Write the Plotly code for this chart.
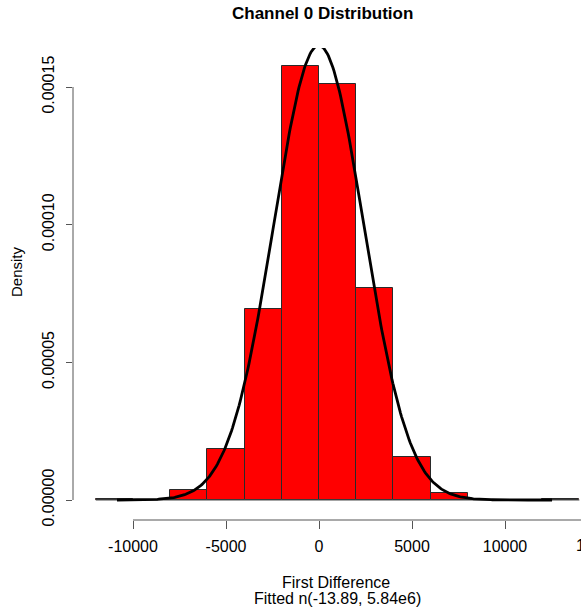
import numpy as np
import plotly.graph_objects as go

# ---- data ----
bin_edges = [-12000, -10000, -8000, -6000, -4000, -2000, 0, 2000, 4000, 6000, 8000, 10000, 12000, 14000]
densities = [4e-7, 0.0, 3.6e-6, 1.85e-5, 6.95e-5, 1.575e-4, 1.51e-4, 7.7e-5, 1.55e-5, 2.5e-6, 0.0, 0.0, 4e-7]

fit_mean = -13.89
fit_var = 5.84e6
curve_from = -10860
curve_to = 12530

x_tickvals = [-10000, -5000, 0, 5000, 10000, 15000]
x_ticktext = ["-10000", "-5000", "0", "5000", "10000", "15000"]
y_tickvals = [0.0, 0.00005, 0.00010, 0.00015]
y_ticktext = ["0.00000", "0.00005", "0.00010", "0.00015"]

title_text = "Channel 0 Distribution"
xlab1 = "First Difference"
xlab2 = "Fitted n(-13.89, 5.84e6)"
ylab = "Density"

# ---- derived ----
edges = np.array(bin_edges, dtype=float)
centers = (edges[:-1] + edges[1:]) / 2
widths = np.diff(edges)

sd = np.sqrt(fit_var)
cx = np.linspace(curve_from, curve_to, 400)
cy = np.exp(-(cx - fit_mean) ** 2 / (2 * fit_var)) / (sd * np.sqrt(2 * np.pi))

W, H = 581, 613
ML, MR, MT, MB = 73, 0, 48, 93
xr = [-13226, 14086]
yr = [-7.26e-6, 1.6417e-4]

FONT = "Liberation Sans, Arial, Helvetica, sans-serif"

fig = go.Figure()
fig.add_trace(go.Bar(
    x=centers, y=densities, width=widths,
    marker=dict(color="#FF0000", line=dict(color="#2a2a2a", width=1)),
    showlegend=False, hoverinfo="skip",
))
fig.add_trace(go.Scatter(
    x=[edges[0], edges[-1]], y=[0, 0], mode="lines",
    line=dict(color="#4a4a4a", width=1), showlegend=False, hoverinfo="skip",
))
fig.add_trace(go.Scatter(
    x=cx, y=cy, mode="lines",
    line=dict(color="black", width=2.8), showlegend=False, hoverinfo="skip",
))

# axis lines spanning only the tick range (R style)
fig.add_shape(type="line", xref="x", yref="paper",
              x0=x_tickvals[0], x1=x_tickvals[-1], y0=0, y1=0,
              line=dict(color="#555555", width=1))
fig.add_shape(type="line", xref="paper", yref="y",
              x0=0, x1=0, y0=y_tickvals[0], y1=y_tickvals[-1],
              line=dict(color="#555555", width=1))

pw = W - ML - MR
ph = H - MT - MB
def px_x(p):
    return (p - ML) / pw
def px_y(p):
    return (H - MB - p) / ph

annots = [
    dict(text="<b>" + title_text + "</b>", x=px_x(322), y=px_y(14), font=dict(size=17)),
    dict(text=ylab, x=px_x(16), y=px_y(272), textangle=-90, font=dict(size=15)),
    dict(text=xlab1, x=px_x(336), y=px_y(582), font=dict(size=16)),
    dict(text=xlab2, x=px_x(337), y=px_y(598), font=dict(size=16)),
]
# last x tick label falls outside the visible range; place it in paper coords
frac_last = (x_tickvals[-1] - xr[0]) / (xr[1] - xr[0])
annots.append(dict(text=x_ticktext[-1], x=frac_last, y=px_y(545), font=dict(size=16)))

for a in annots:
    fig.add_annotation(xref="paper", yref="paper", showarrow=False,
                       xanchor="center", yanchor="middle", **a)

fig.update_layout(
    width=W, height=H,
    margin=dict(l=ML, r=MR, t=MT, b=MB, pad=0),
    paper_bgcolor="white", plot_bgcolor="white",
    font=dict(family=FONT, color="black", size=16),
    bargap=0,
    xaxis=dict(range=xr, showgrid=False, zeroline=False, showline=False,
               tickmode="array", tickvals=x_tickvals[:-1], ticktext=x_ticktext[:-1],
               ticks="outside", ticklen=8, tickwidth=1, tickcolor="#555555",
               tickfont=dict(size=16), ticklabelstandoff=4),
    yaxis=dict(range=yr, showgrid=False, zeroline=False, showline=False,
               tickmode="array", tickvals=y_tickvals, ticktext=y_ticktext,
               ticks="outside", ticklen=6, tickwidth=1, tickcolor="#555555",
               tickangle=-90, tickfont=dict(size=16), ticklabelstandoff=6),
)

fig.write_html("out.html")
